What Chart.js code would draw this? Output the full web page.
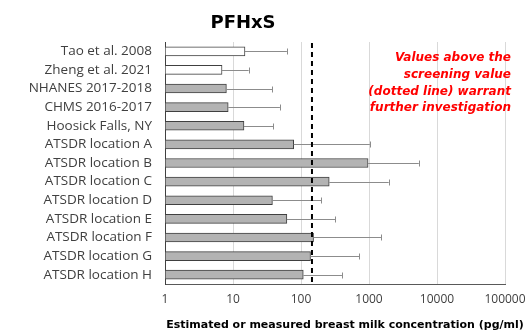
<!DOCTYPE html>
<html>
<head>
<meta charset="utf-8">
<script src="https://cdn.jsdelivr.net/npm/chart.js@4/dist/chart.umd.min.js"></script>
<style>
  html, body { margin: 0; padding: 0; background: #fff; }
  #wrap { width: 527px; height: 331px; }
</style>
</head>
<body>
<div id="wrap"><canvas id="myChart" width="527" height="331"></canvas></div>
<script>
// data
const labels = [
  'Tao et al. 2008', 'Zheng et al. 2021', 'NHANES 2017-2018', 'CHMS 2016-2017',
  'Hoosick Falls, NY', 'ATSDR location A', 'ATSDR location B', 'ATSDR location C',
  'ATSDR location D', 'ATSDR location E', 'ATSDR location F', 'ATSDR location G',
  'ATSDR location H'
];
const values = [15, 6.9, 8, 8.5, 14.5, 78, 970, 260, 38, 62, 153, 138, 108];
const upper = [62, 17, 38, 49, 39, 1030, 5400, 1950, 200, 320, 1500, 720, 400];
const barFills = ['#ffffff', '#ffffff', '#b3b3b3', '#b3b3b3', '#b3b3b3', '#b3b3b3', '#b3b3b3',
  '#b3b3b3', '#b3b3b3', '#b3b3b3', '#b3b3b3', '#b3b3b3', '#b3b3b3'];
const xTicks = [1, 10, 100, 1000, 10000, 100000];
const screeningValue = 145;
const noteLines = ['Values above the', 'screening value', '(dotted line) warrant', 'further investigation'];

const FONT = "'DejaVu Sans', sans-serif";
const LABEL_FONT = "'Open Sans', sans-serif";

const errorBars = {
  id: 'errorBars',
  afterDatasetsDraw(chart) {
    const { ctx, scales: { x } } = chart;
    const meta = chart.getDatasetMeta(0);
    ctx.save();
    ctx.strokeStyle = '#8c8c8c';
    ctx.lineWidth = 1;
    meta.data.forEach((bar, i) => {
      const x0 = x.getPixelForValue(values[i]);
      const x1 = x.getPixelForValue(upper[i]);
      const y = Math.round(bar.y) + 0.5;
      ctx.beginPath();
      ctx.moveTo(x0, y);
      ctx.lineTo(x1, y);
      ctx.moveTo(Math.round(x1) + 0.5, y - 3);
      ctx.lineTo(Math.round(x1) + 0.5, y + 3);
      ctx.stroke();
    });
    // screening value
    const sx = x.getPixelForValue(screeningValue);
    ctx.strokeStyle = '#000';
    ctx.lineWidth = 2;
    ctx.setLineDash([5, 4]);
    ctx.beginPath();
    ctx.moveTo(sx, chart.chartArea.top + 1);
    ctx.lineTo(sx, chart.chartArea.bottom);
    ctx.stroke();
    ctx.restore();
  }
};

const texts = {
  id: 'texts',
  afterDraw(chart) {
    const { ctx } = chart;
    ctx.save();
    ctx.fillStyle = '#000';
    ctx.textAlign = 'center';
    ctx.textBaseline = 'middle';
    ctx.font = 'bold 18px ' + FONT;
    ctx.fillText('PFHxS', 243, 23);

    ctx.font = 'bold 11px ' + FONT;
    ctx.fillText('Estimated or measured breast milk concentration (pg/ml)', 345, 325);

    ctx.fillStyle = '#ff0000';
    ctx.textAlign = 'right';
    ctx.font = 'italic bold 12px ' + FONT;
    noteLines.forEach((t, i) => ctx.fillText(t, 511, 58 + i * 16.7));
    ctx.restore();
  }
};

new Chart(document.getElementById('myChart'), {
  type: 'bar',
  data: {
    labels: labels,
    datasets: [{
      data: values,
      backgroundColor: barFills,
      borderColor: '#404040',
      borderWidth: 1,
      borderSkipped: false,
      barThickness: 9,
    }]
  },
  options: {
    indexAxis: 'y',
    responsive: false,
    animation: false,
    layout: { padding: { top: 42, right: 22, left: 0, bottom: 0 } },
    plugins: { legend: { display: false }, tooltip: { enabled: false } },
    scales: {
      x: {
        type: 'logarithmic',
        min: 1,
        max: 100000,
        afterBuildTicks: s => { s.ticks = xTicks.map(v => ({ value: v })); },
        afterFit: s => { s.height = 47; s.paddingLeft = 0; s.paddingRight = 0; },
        grid: { color: '#d9d9d9', drawTicks: false },
        border: { color: '#595959', width: 1 },
        ticks: {
          padding: 8,
          color: '#404040',
          font: { family: LABEL_FONT, size: 12 },
          callback: v => String(v),
        },
      },
      y: {
        afterFit: s => { s.width = 165; },
        grid: { color: 'transparent', drawTicks: false },
        border: { color: '#404040', width: 1 },
        ticks: {
          autoSkip: false,
          padding: 13,
          color: '#404040',
          font: { family: LABEL_FONT, size: 13.5 },
        },
      },
    },
  },
  plugins: [errorBars, texts],
});
</script>
</body>
</html>
